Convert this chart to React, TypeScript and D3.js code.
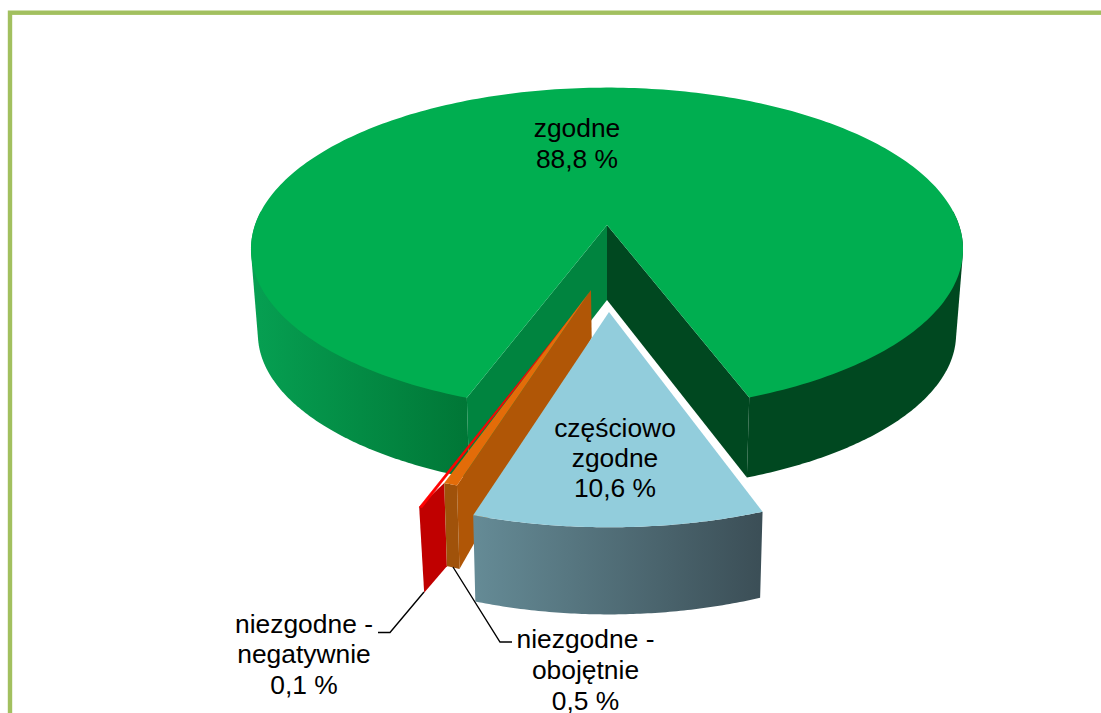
import React from "react";
import * as d3 from "d3";

const categories = ["zgodne", "częściowo zgodne", "niezgodne - obojętnie", "niezgodne - negatywnie"];
const shares = [88.8, 10.6, 0.5, 0.1];
const shareLabels = ["88,8 %", "10,6 %", "0,5 %", "0,1 %"];

type Plane = { cx: number; cy: number; A: number; B: number; k: number };
const W = 1101, H = 713;
const FONT = "'Liberation Sans', Arial, sans-serif";

const arcs = d3
  .pie<number>()
  .sort(null)
  .startAngle((200 * Math.PI) / 180)
  .endAngle((560 * Math.PI) / 180)(shares);

const project = (p: Plane, a: number): [number, number] => {
  const u = Math.sin(a), v = -Math.cos(a), w = 1 - p.k * v;
  return [p.cx + (p.A * u) / w, p.cy + (p.B * v) / w];
};
const sample = (p: Plane, a0: number, a1: number, n = 80) =>
  d3.range(n + 1).map((i) => project(p, a0 + ((a1 - a0) * i) / n));
const line = d3.line<[number, number]>();
const closed = (pts: [number, number][]) => (line(pts) as string) + "Z";
const rad = (deg: number) => (deg * Math.PI) / 180;
// The outer wall is the convex hull of its two rims; the top disc hides its upper part.
const hull = (top: Plane, bot: Plane, a0: number, a1: number) =>
  closed(d3.polygonHull([...sample(top, a0, a1, 120), ...sample(bot, a0, a1, 120)]) as [number, number][]);

const greenTop: Plane = { cx: 607, cy: 225, A: 352, B: 158, k: 0.15 };
const greenBot: Plane = { cx: 607, cy: 310, A: 345, B: 153, k: 0.153 };
const blueTop: Plane = { cx: 609, cy: 312, A: 380, B: 183, k: 0.15 };
const blueBot: Plane = { cx: 609, cy: 385, A: 374, B: 195, k: 0.15 };
const orangeTop: Plane = { cx: 591, cy: 290, A: 375, B: 176, k: 0.15 };
const orangeBot: Plane = { cx: 591.7, cy: 338, A: 370, B: 208, k: 0.15 };
const redTop: Plane = { cx: 588, cy: 296, A: 424, B: 193, k: 0.15 };
const redBot: Plane = { cx: 589, cy: 350, A: 414, B: 222, k: 0.15 };

export default function App() {
  const [g, b, o, r] = arcs;
  const greenApexLow: [number, number] = [607, 300];

  const greenTopPath = closed([[greenTop.cx, greenTop.cy], ...sample(greenTop, g.startAngle, g.endAngle, 300)]);
  const leftSide = hull(greenTop, greenBot, g.startAngle, rad(275));
  const rightSide = hull(greenTop, greenBot, rad(445), g.endAngle);
  const leftWall = closed([[greenTop.cx, greenTop.cy], project(greenTop, g.startAngle), project(greenBot, g.startAngle), greenApexLow]);
  const rightWall = closed([[greenTop.cx, greenTop.cy], project(greenTop, g.endAngle), project(greenBot, g.endAngle), greenApexLow]);

  const blueTopPath = closed([[blueTop.cx, blueTop.cy], ...sample(blueTop, b.startAngle, b.endAngle)]);
  const blueSide = closed([...sample(blueTop, b.startAngle, b.endAngle), ...sample(blueBot, b.endAngle, b.startAngle)]);

  const orangeTopPath = closed([[orangeTop.cx, orangeTop.cy], ...sample(orangeTop, o.startAngle, o.endAngle, 6)]);
  const orangeWall = closed([[orangeTop.cx, orangeTop.cy], project(orangeTop, o.startAngle), project(orangeBot, o.startAngle), [orangeBot.cx, orangeBot.cy]]);
  const orangeFront = closed([...sample(orangeTop, o.startAngle, o.endAngle, 6), ...sample(orangeBot, o.endAngle, o.startAngle, 6)]);

  const redTopPath = closed([[redTop.cx, redTop.cy], ...sample(redTop, r.startAngle, r.endAngle, 4)]);
  const redWall = closed([project(redTop, r.endAngle), project(redBot, r.endAngle), project(orangeBot, o.endAngle), project(orangeTop, o.endAngle)]);

  const textAt = (x: number, ys: number[], lines: string[]) => (
    <text x={x} textAnchor="middle" fontFamily={FONT} fontSize={26.4} fill="#000">
      {lines.map((t, i) => (
        <tspan key={i} x={x} y={ys[i]}>{t}</tspan>
      ))}
    </text>
  );

  return (
    <svg width={W} height={H} viewBox={`0 0 ${W} ${H}`} style={{ position: "fixed", left: 0, top: 0, background: "#fff" }}>
      <defs>
        <linearGradient id="gl" gradientUnits="userSpaceOnUse" x1={251} x2={470} y1={0} y2={0}>
          <stop offset="0" stopColor="#06a052" />
          <stop offset="1" stopColor="#007636" />
        </linearGradient>
        <linearGradient id="bs" gradientUnits="userSpaceOnUse" x1={473} x2={763} y1={0} y2={0}>
          <stop offset="0" stopColor="#658b96" />
          <stop offset="1" stopColor="#3b4e56" />
        </linearGradient>
      </defs>

      <rect x={10} y={12.7} width={1300} height={900} fill="none" stroke="#a2c05f" strokeWidth={4.4} />

      <path d={leftSide} fill="url(#gl)" />
      <path d={rightSide} fill="#004820" />
      <path d={leftWall} fill="#00843f" />
      <path d={rightWall} fill="#004820" />
      <path d={greenTopPath} fill="#00ae50" />

      <path d={redWall} fill="#c00000" />
      <path d={redTopPath} fill="#ff0000" stroke="#ff0000" strokeWidth={0.6} />
      <path d={orangeWall} fill="#b05606" />
      <path d={orangeFront} fill="#a0520a" />
      <path d={orangeTopPath} fill="#e36c09" />

      <path d={blueSide} fill="url(#bs)" />
      <path d={blueTopPath} fill="#92cddc" />

      <polyline points="424,592 390,632.5 378,632.5" fill="none" stroke="#000" strokeWidth={1.4} />
      <polyline points="453,567 500,642 512,642" fill="none" stroke="#000" strokeWidth={1.4} />

      {textAt(577, [137, 168], [categories[0], shareLabels[0]])}
      {textAt(615, [437, 467, 497], ["częściowo", "zgodne", shareLabels[1]])}
      {textAt(585.5, [648, 679, 709.5], ["niezgodne -", "obojętnie", shareLabels[2]])}
      {textAt(304, [633, 663, 694], ["niezgodne -", "negatywnie", shareLabels[3]])}
    </svg>
  );
}
